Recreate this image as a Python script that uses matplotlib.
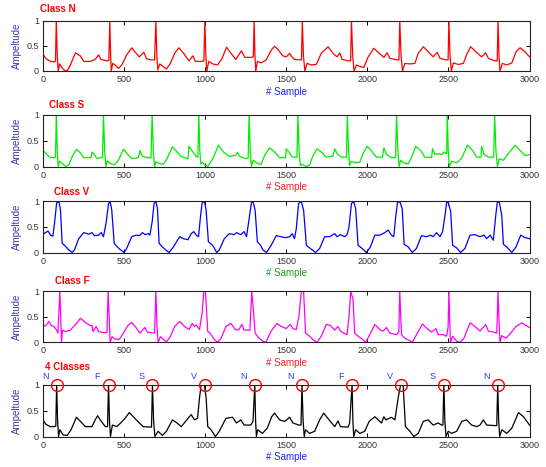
import matplotlib
matplotlib.use("Agg")
import matplotlib.pyplot as plt

plt.rcParams['font.family'] = ['Liberation Sans', 'DejaVu Sans']

# ---------------- data (sample index, normalised amplitude) ----------------
class_n = [(0,0.33),(20,0.24),(47,0.19),(70,0.18),(77,0.2),(82,1.0),(88,0.3),(94,0.0),(102,0.14),(112,0.09),(129,0.02),(149,0.0),(169,0.12),(200,0.36),(230,0.3),(251,0.19),(292,0.19),(322,0.23),(343,0.32),(357,0.23),(394,0.2),(406,0.21),(412,1.0),(417,0.3),(421,0.0),(430,0.15),(445,0.12),(465,0.05),(486,0.12),(516,0.32),(547,0.46),(567,0.38),(594,0.28),(622,0.37),(639,0.24),(669,0.22),(688,0.22),(696,1.0),(702,0.3),(708,0.02),(720,0.14),(740,0.09),(761,0.04),(785,0.15),(812,0.35),(838,0.46),(867,0.35),(900,0.2),(924,0.3),(940,0.19),(975,0.19),(992,0.2),(998,1.0),(1004,0.3),(1010,0.0),(1022,0.19),(1047,0.14),(1077,0.12),(1104,0.25),(1132,0.47),(1159,0.35),(1189,0.23),(1224,0.4),(1244,0.27),(1291,0.27),(1297,0.28),(1302,1.0),(1307,0.3),(1312,0.0),(1322,0.19),(1345,0.16),(1376,0.22),(1407,0.41),(1428,0.49),(1448,0.43),(1479,0.3),(1500,0.28),(1521,0.35),(1535,0.28),(1551,0.23),(1582,0.22),(1594,0.22),(1599,1.0),(1606,0.3),(1615,0.0),(1628,0.15),(1655,0.12),(1685,0.13),(1716,0.35),(1758,0.48),(1788,0.35),(1813,0.28),(1830,0.36),(1844,0.23),(1881,0.2),(1897,0.2),(1902,1.0),(1910,0.3),(1918,0.0),(1933,0.12),(1953,0.09),(1978,0.07),(2005,0.28),(2040,0.45),(2073,0.35),(2102,0.27),(2122,0.36),(2139,0.25),(2184,0.22),(2195,0.22),(2200,1.0),(2208,0.3),(2217,0.0),(2231,0.15),(2262,0.14),(2293,0.15),(2314,0.35),(2345,0.48),(2376,0.38),(2406,0.28),(2431,0.37),(2448,0.25),(2485,0.22),(2498,0.22),(2503,1.0),(2510,0.3),(2518,0.0),(2530,0.16),(2561,0.13),(2592,0.15),(2612,0.32),(2637,0.48),(2670,0.38),(2705,0.28),(2730,0.36),(2746,0.25),(2787,0.2),(2801,0.2),(2806,1.0),(2812,0.3),(2818,0.0),(2833,0.15),(2860,0.12),(2891,0.16),(2917,0.38),(2942,0.46),(2973,0.38),(3000,0.28)]

class_s = [(0,0.31),(27,0.22),(47,0.17),(72,0.17),(77,0.18),(82,1.0),(88,0.3),(94,0.0),(102,0.1),(118,0.06),(139,0.0),(159,0.03),(180,0.19),(206,0.33),(231,0.26),(251,0.17),(296,0.17),(302,0.28),(316,0.23),(333,0.15),(353,0.17),(367,0.18),(373,1.0),(380,0.3),(388,0.0),(396,0.11),(414,0.06),(439,0.03),(465,0.12),(496,0.33),(526,0.22),(547,0.15),(588,0.17),(598,0.31),(612,0.2),(639,0.17),(666,0.17),(673,1.0),(680,0.3),(688,0.0),(696,0.09),(716,0.06),(741,0.04),(765,0.15),(798,0.38),(826,0.28),(853,0.19),(894,0.15),(900,0.39),(924,0.28),(945,0.19),(955,0.18),(961,1.0),(967,0.3),(973,0.05),(985,0.08),(996,0.03),(1016,0.0),(1047,0.15),(1083,0.41),(1112,0.28),(1149,0.19),(1189,0.22),(1200,0.27),(1210,0.2),(1251,0.15),(1265,0.16),(1271,1.0),(1278,0.3),(1285,0.0),(1295,0.12),(1322,0.06),(1345,0.04),(1366,0.21),(1397,0.36),(1428,0.28),(1459,0.17),(1496,0.17),(1500,0.34),(1516,0.28),(1537,0.18),(1566,0.18),(1572,1.0),(1579,0.3),(1587,0.02),(1599,0.04),(1624,0.0),(1644,0.03),(1665,0.21),(1690,0.34),(1716,0.28),(1747,0.18),(1788,0.2),(1799,0.34),(1813,0.25),(1840,0.18),(1871,0.18),(1877,1.0),(1884,0.3),(1891,0.02),(1902,0.1),(1922,0.07),(1953,0.08),(1974,0.25),(1999,0.39),(2025,0.3),(2056,0.18),(2093,0.18),(2102,0.36),(2118,0.23),(2149,0.17),(2174,0.17),(2180,1.0),(2188,0.3),(2196,0.0),(2205,0.12),(2225,0.07),(2252,0.05),(2273,0.18),(2299,0.39),(2328,0.31),(2355,0.18),(2396,0.17),(2402,0.34),(2417,0.23),(2437,0.25),(2458,0.23),(2472,0.28),(2485,0.25),(2489,0.25),(2493,1.0),(2499,0.3),(2505,0.0),(2520,0.1),(2551,0.07),(2582,0.16),(2617,0.41),(2649,0.31),(2674,0.18),(2701,0.18),(2705,0.39),(2720,0.23),(2746,0.18),(2779,0.18),(2785,1.0),(2793,0.3),(2802,0.0),(2814,0.15),(2839,0.12),(2870,0.25),(2911,0.41),(2942,0.31),(2973,0.21),(3000,0.23)]

class_v = [(0,0.36),(16,0.39),(31,0.42),(47,0.34),(61,0.32),(73,0.63),(84,0.97),(98,1.0),(108,0.83),(118,0.18),(133,0.14),(159,0.05),(180,0.0),(194,0.05),(220,0.27),(251,0.39),(282,0.36),(302,0.39),(318,0.33),(343,0.34),(359,0.39),(373,0.31),(390,0.6),(404,0.96),(414,1.0),(424,0.83),(439,0.18),(455,0.12),(475,0.06),(500,0.0),(516,0.08),(547,0.31),(573,0.34),(594,0.33),(614,0.39),(628,0.35),(649,0.37),(659,0.34),(673,0.6),(685,0.96),(696,1.0),(706,0.86),(716,0.18),(736,0.11),(757,0.05),(777,0.0),(802,0.1),(843,0.31),(867,0.27),(894,0.25),(914,0.37),(930,0.41),(945,0.34),(959,0.31),(971,0.7),(981,0.97),(996,1.0),(1006,0.83),(1020,0.21),(1047,0.14),(1071,0.0),(1087,0.05),(1118,0.27),(1149,0.37),(1179,0.35),(1193,0.39),(1220,0.35),(1240,0.41),(1255,0.31),(1271,0.67),(1285,0.97),(1295,1.0),(1308,0.83),(1322,0.21),(1342,0.14),(1356,0.05),(1378,0.0),(1407,0.14),(1438,0.33),(1469,0.31),(1496,0.29),(1521,0.31),(1537,0.37),(1551,0.27),(1562,0.47),(1576,0.96),(1593,1.0),(1607,0.83),(1624,0.14),(1648,0.08),(1681,0.0),(1706,0.08),(1737,0.31),(1768,0.31),(1799,0.37),(1813,0.31),(1834,0.35),(1861,0.31),(1875,0.35),(1887,0.5),(1902,0.96),(1916,1.0),(1928,0.86),(1943,0.14),(1964,0.09),(1994,0.0),(2019,0.11),(2046,0.34),(2077,0.34),(2108,0.39),(2128,0.44),(2149,0.34),(2163,0.31),(2176,0.73),(2186,0.98),(2200,1.0),(2215,0.86),(2227,0.16),(2252,0.11),(2277,0.0),(2303,0.08),(2334,0.33),(2365,0.31),(2390,0.34),(2406,0.31),(2427,0.39),(2448,0.31),(2464,0.41),(2479,0.73),(2489,0.98),(2499,0.98),(2514,0.8),(2526,0.14),(2551,0.09),(2575,0.0),(2602,0.08),(2633,0.34),(2664,0.35),(2695,0.31),(2720,0.34),(2736,0.27),(2757,0.34),(2777,0.24),(2792,0.73),(2802,1.0),(2814,0.98),(2829,0.73),(2839,0.16),(2860,0.11),(2891,0.0),(2917,0.11),(2946,0.34),(2973,0.29),(3000,0.27)]

class_f = [(0,0.33),(16,0.32),(37,0.41),(51,0.33),(67,0.31),(84,0.24),(92,0.18),(104,1.0),(114,0.0),(120,0.24),(139,0.21),(169,0.24),(206,0.37),(231,0.47),(261,0.39),(288,0.33),(302,0.33),(308,0.21),(328,0.31),(343,0.21),(373,0.19),(394,0.19),(402,1.0),(410,0.3),(414,0.0),(426,0.11),(445,0.06),(471,0.06),(496,0.18),(526,0.34),(547,0.39),(573,0.29),(598,0.18),(614,0.24),(628,0.29),(643,0.2),(669,0.19),(688,0.18),(696,1.0),(703,0.3),(710,0.0),(724,0.11),(741,0.06),(761,0.01),(785,0.11),(812,0.31),(843,0.41),(873,0.31),(900,0.25),(920,0.37),(934,0.31),(945,0.34),(965,0.25),(981,0.57),(992,1.0),(1002,1.0),(1016,0.21),(1030,0.18),(1057,0.05),(1077,0.0),(1098,0.08),(1128,0.31),(1159,0.37),(1185,0.25),(1206,0.24),(1226,0.35),(1240,0.24),(1276,0.24),(1287,1.0),(1298,0.6),(1308,0.18),(1332,0.08),(1356,0.02),(1375,0.0),(1407,0.22),(1442,0.37),(1469,0.31),(1500,0.27),(1525,0.35),(1541,0.27),(1562,0.25),(1578,0.51),(1593,1.0),(1607,1.0),(1619,0.18),(1644,0.12),(1665,0.05),(1690,0.0),(1716,0.12),(1747,0.35),(1772,0.33),(1799,0.24),(1819,0.31),(1834,0.22),(1854,0.18),(1875,0.15),(1887,0.51),(1898,1.0),(1912,0.84),(1922,0.18),(1943,0.12),(1964,0.07),(1990,0.0),(2015,0.15),(2046,0.35),(2077,0.25),(2097,0.22),(2118,0.29),(2139,0.18),(2180,0.15),(2194,0.2),(2200,1.0),(2206,0.5),(2211,0.15),(2231,0.08),(2252,0.05),(2277,0.0),(2303,0.15),(2340,0.36),(2365,0.28),(2396,0.2),(2423,0.27),(2437,0.15),(2468,0.15),(2489,0.12),(2498,0.3),(2503,1.0),(2508,0.4),(2513,0.0),(2526,0.12),(2551,0.02),(2571,0.0),(2596,0.08),(2633,0.38),(2664,0.31),(2695,0.22),(2730,0.35),(2746,0.22),(2777,0.2),(2798,0.18),(2806,1.0),(2812,0.4),(2818,0.0),(2829,0.13),(2855,0.08),(2884,0.18),(2917,0.31),(2952,0.38),(3000,0.29)]

mixed = [(0,0.32),(16,0.24),(43,0.19),(67,0.19),(79,0.2),(84,1.0),(90,0.3),(96,0.0),(104,0.13),(124,0.03),(149,0.02),(173,0.13),(206,0.37),(231,0.29),(261,0.19),(302,0.19),(322,0.32),(337,0.4),(353,0.32),(384,0.19),(398,0.19),(404,1.0),(410,0.3),(416,0.0),(428,0.22),(455,0.19),(479,0.26),(506,0.35),(532,0.46),(557,0.38),(588,0.28),(618,0.19),(669,0.18),(675,1.0),(682,0.3),(690,0.0),(710,0.1),(736,0.02),(761,0.1),(798,0.32),(826,0.26),(853,0.19),(894,0.35),(914,0.42),(934,0.32),(953,0.35),(965,0.74),(975,0.99),(996,0.98),(1006,0.74),(1016,0.19),(1036,0.13),(1063,0.0),(1087,0.1),(1128,0.35),(1169,0.37),(1193,0.26),(1220,0.32),(1240,0.22),(1281,0.22),(1295,0.29),(1306,1.0),(1311,0.3),(1316,0.0),(1324,0.13),(1353,0.06),(1383,0.16),(1410,0.38),(1428,0.45),(1459,0.32),(1490,0.29),(1521,0.37),(1541,0.26),(1578,0.22),(1591,0.22),(1597,1.0),(1604,0.3),(1611,0.0),(1619,0.13),(1644,0.06),(1675,0.1),(1706,0.32),(1731,0.45),(1764,0.32),(1799,0.19),(1819,0.3),(1834,0.19),(1881,0.18),(1891,0.26),(1906,1.0),(1911,0.3),(1916,0.0),(1928,0.13),(1953,0.06),(1984,0.1),(2011,0.29),(2046,0.38),(2067,0.32),(2087,0.26),(2102,0.38),(2114,0.32),(2149,0.37),(2170,0.32),(2190,0.74),(2205,0.99),(2221,0.98),(2235,0.19),(2262,0.1),(2287,0.0),(2314,0.06),(2345,0.29),(2375,0.32),(2406,0.22),(2437,0.26),(2458,0.22),(2466,0.22),(2472,1.0),(2478,0.3),(2485,0.0),(2499,0.1),(2520,0.06),(2551,0.1),(2582,0.29),(2612,0.32),(2643,0.22),(2674,0.19),(2695,0.22),(2715,0.32),(2736,0.22),(2787,0.21),(2798,0.21),(2804,1.0),(2810,0.3),(2816,0.0),(2829,0.13),(2860,0.06),(2891,0.16),(2932,0.46),(2963,0.38),(3000,0.22)]

beat_labels = ["N", "F", "S", "V", "N", "N", "F", "V", "S", "N"]
beat_peaks = [84, 404, 675, 1000, 1306, 1597, 1906, 2210, 2472, 2804]

titles = ["Class N", "Class S", "Class V", "Class F", "4 Classes"]
xticks = [0, 500, 1000, 1500, 2000, 2500, 3000]
yticks = [0, 0.5, 1]
ytick_labels = ["0", "0.5", "1"]

# ---------------- styling ----------------
series = [class_n, class_s, class_v, class_f, mixed]
line_colors = ["#ff0000", "#00ee00", "#0000ff", "#ff00ff", "#000000"]
xlabel_colors = ["#2222ff", "#ff2020", "#22a022", "#ff2020", "#2222ff"]
# axes [left, bottom, width, height] in figure fraction
W, H = 546, 467
boxes_px = [(20.5, 71), (114.5, 166.5), (201.5, 252.5), (291.3, 342.3), (384.5, 436.5)]
title_px = [(40, 9.5), (49, 105), (54, 192), (55, 281), (45, 367)]
left_px, right_px = 43, 529.5

fig = plt.figure(figsize=(W / 100, H / 100), dpi=100)
for i, (pts, col) in enumerate(zip(series, line_colors)):
    top, bot = boxes_px[i]
    ax = fig.add_axes([left_px / W, 1 - bot / H, (right_px - left_px) / W, (bot - top) / H])
    xs = [p[0] for p in pts]
    ys = [p[1] for p in pts]
    ax.plot(xs, ys, color=col, lw=0.9, solid_joinstyle='round', clip_on=True)
    ax.set_xlim(0, 3000)
    ax.set_ylim(0, 1)
    ax.set_xticks(xticks)
    ax.set_yticks(yticks)
    ax.set_yticklabels(ytick_labels)
    ax.tick_params(direction='in', length=3, width=0.7, labelsize=6.5,
                   labelcolor='#333333', top=True, right=True, pad=3)
    for sp in ax.spines.values():
        sp.set_linewidth(0.8)
        sp.set_color('#222222')
    ax.set_ylabel("Ampeltude", color="#3b3bb0", fontsize=7, labelpad=3)
    ax.set_xlabel("# Sample", color=xlabel_colors[i], fontsize=7, labelpad=2)
    tx, ty = title_px[i]
    fig.text(tx / W, 1 - ty / H, titles[i], color="#ff0000", fontsize=7,
             fontweight='bold', ha='left', va='center')
    if i == 4:
        ax.plot(beat_peaks, [1.0] * len(beat_peaks), linestyle='none', marker='o',
                markersize=8.5, markerfacecolor='none', markeredgecolor='#ff0000',
                markeredgewidth=1.0, clip_on=False, zorder=5)
        for bx, lab in zip(beat_peaks, beat_labels):
            ax.text(bx - 70, 1.15, lab, color="#3333ee", fontsize=6.5,
                    ha='center', va='center', clip_on=False)

fig.savefig("out.png", dpi=100)
